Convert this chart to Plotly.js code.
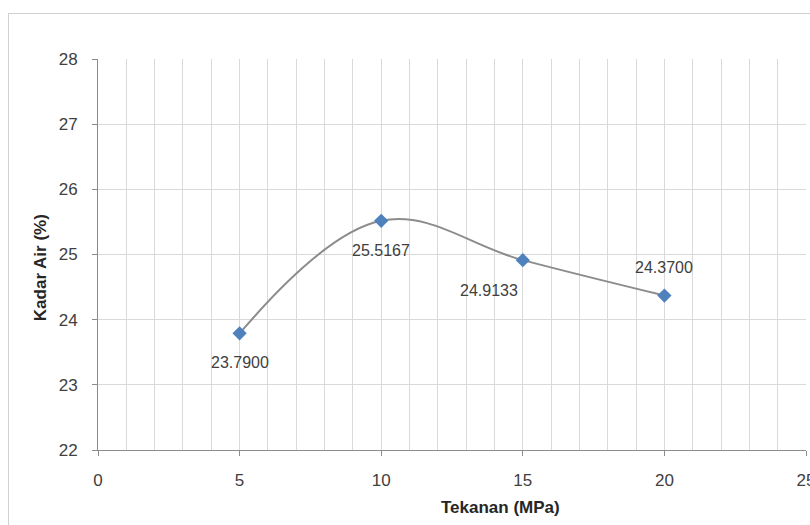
<!DOCTYPE html>
<html><head><meta charset="utf-8">
<script src="https://cdn.plot.ly/plotly-3.0.1.min.js"></script>
<style>
body{margin:0;background:#fff;}
#frame{position:absolute;left:8px;top:13px;width:830px;height:540px;border:1px solid #d0d0d0;pointer-events:none;}
#chart{position:absolute;left:0;top:0;width:810px;height:525px;}
</style></head>
<body>
<div id="chart"></div>
<div id="frame"></div>
<script>
const pressure = [5, 10, 15, 20];
const waterContent = [23.79, 25.5167, 24.9133, 24.37];
const labels = ["23.7900", "25.5167", "24.9133", "24.3700"];
const xTicks = [0, 5, 10, 15, 20, 25];
const yTicks = [22, 23, 24, 25, 26, 27, 28];
const xTitle = "Tekanan (MPa)";
const yTitle = "Kadar Air (%)";

const labelShiftX = [0, 0, -34, 0];
const labelShiftY = [-29, -30, -30, 28];

const FONT = 'Liberation Sans, Arial, sans-serif';

const trace = {
  x: pressure, y: waterContent, type: 'scatter', mode: 'lines+markers',
  line: {shape: 'spline', smoothing: 1.1, color: '#8c8c8c', width: 2},
  marker: {symbol: 'diamond', size: 11, color: '#4f81bd', line: {color: '#4f81bd', width: 0}},
  hoverinfo: 'skip', cliponaxis: false
};

const annotations = pressure.map((p, i) => ({
  x: p, y: waterContent[i], text: labels[i], showarrow: false,
  xshift: labelShiftX[i], yshift: labelShiftY[i],
  font: {family: FONT, size: 16, color: '#404040'}
}));
annotations.push({
  xref: 'paper', yref: 'paper', x: 0.568, y: 0, xanchor: 'center', yanchor: 'middle',
  yshift: -57, showarrow: false,
  text: '<b>' + xTitle + '</b>', font: {family: FONT, size: 17, color: '#262626'}
});
annotations.push({
  xref: 'paper', yref: 'paper', x: 0, xshift: -58, y: 0.465, xanchor: 'center', yanchor: 'middle',
  showarrow: false, textangle: -90,
  text: '<b>' + yTitle + '</b>', font: {family: FONT, size: 17, color: '#262626'}
});

const layout = {
  width: 810, height: 525,
  margin: {l: 98, r: 4, t: 59, b: 75},
  paper_bgcolor: '#ffffff', plot_bgcolor: '#ffffff',
  showlegend: false,
  font: {family: FONT, size: 17, color: '#404040'},
  xaxis: {
    range: [0, 25.0001], tickvals: xTicks, ticktext: xTicks.map(String),
    showgrid: false, zeroline: false,
    showline: true, linecolor: '#8c8c8c', linewidth: 1,
    ticks: 'outside', ticklen: 5, tickcolor: '#8c8c8c',
    ticklabelstandoff: 10, ticklabeloverflow: 'allow',
    minor: {dtick: 1, showgrid: true, gridcolor: '#d9d9d9', gridwidth: 1},
    tickfont: {family: FONT, size: 17, color: '#404040'}
  },
  yaxis: {
    range: [22, 28], tickvals: yTicks,
    showgrid: true, gridcolor: '#d9d9d9', gridwidth: 1, zeroline: false,
    showline: true, linecolor: '#8c8c8c', linewidth: 1,
    ticks: 'outside', ticklen: 5, tickcolor: '#8c8c8c',
    ticklabelstandoff: 11,
    tickfont: {family: FONT, size: 17, color: '#404040'}
  },
  annotations: annotations
};

Plotly.newPlot('chart', [trace], layout, {displayModeBar: false, staticPlot: true});
</script>
</body></html>
